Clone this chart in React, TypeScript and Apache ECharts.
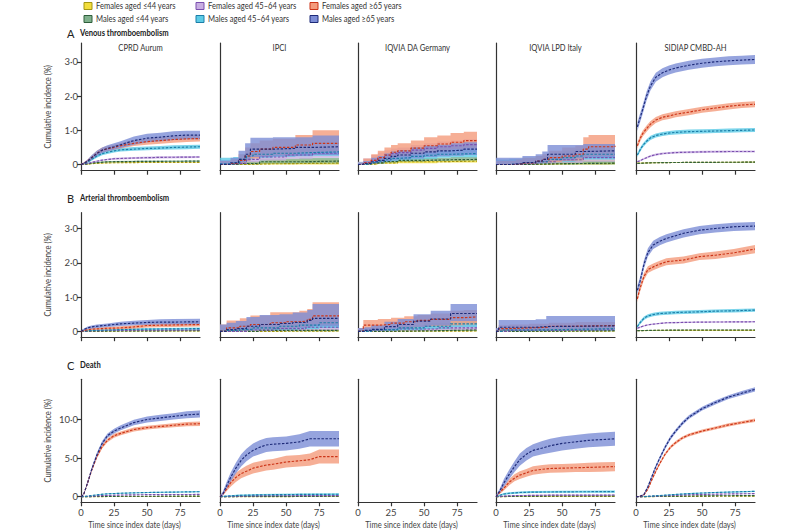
import React, { useEffect, useRef } from 'react';
import * as echarts from 'echarts';

// ---------- labels ----------
const legendRow1 = ['Females aged ≤44 years', 'Females aged 45–64 years', 'Females aged ≥65 years'];
const legendRow2 = ['Males aged ≤44 years', 'Males aged 45–64 years', 'Males aged ≥65 years'];
const columnTitles = ['CPRD Aurum', 'IPCI', 'IQVIA DA Germany', 'IQVIA LPD Italy', 'SIDIAP CMBD-AH'];
const rowLetters = ['A', 'B', 'C'];
const rowTitles = ['Venous thromboembolism', 'Arterial thromboembolism', 'Death'];
const yTitle = 'Cumulative incidence (%)';
const xTitle = 'Time since index date (days)';
const xTicks = [0, 25, 50, 75];
const yTicksAB = [0, 1, 2, 3];
const yTickLabelsAB = ['0', '1·0', '2·0', '3·0'];
const yTicksC = [0, 5, 10];
const yTickLabelsC = ['0', '5·0', '10·0'];

// ---------- data: [day, estimate, lower, upper] ----------
// A — Venous thromboembolism
const vteCprdF44 = [[0,0,0,0.01],[5,0.01,0,0.02],[10,0.03,0.02,0.04],[20,0.05,0.04,0.06],[50,0.06,0.05,0.07],[90,0.06,0.05,0.07]];
const vteCprdM44 = [[0,0,0,0.01],[5,0.02,0.01,0.04],[10,0.05,0.03,0.07],[20,0.08,0.06,0.1],[40,0.09,0.07,0.11],[90,0.1,0.08,0.12]];
const vteCprdF45 = [[0,0,0,0.01],[5,0.03,0.02,0.05],[10,0.08,0.06,0.1],[16,0.13,0.11,0.15],[25,0.17,0.14,0.2],[40,0.19,0.16,0.22],[60,0.21,0.18,0.24],[90,0.22,0.19,0.25]];
const vteCprdM45 = [[0,0,0,0.01],[2,0.02,0.01,0.04],[5,0.07,0.04,0.1],[8,0.15,0.11,0.19],[12,0.25,0.2,0.3],[16,0.32,0.27,0.37],[20,0.36,0.31,0.41],[25,0.4,0.35,0.45],[30,0.43,0.38,0.48],[40,0.45,0.4,0.51],[50,0.47,0.42,0.53],[60,0.48,0.43,0.54],[70,0.5,0.44,0.56],[80,0.51,0.45,0.57],[90,0.52,0.46,0.58]];
const vteCprdF65 = [[0,0,0,0.02],[2,0.03,0.01,0.06],[5,0.1,0.06,0.15],[8,0.2,0.15,0.26],[12,0.33,0.27,0.4],[16,0.42,0.35,0.5],[20,0.46,0.39,0.54],[25,0.5,0.43,0.58],[30,0.55,0.47,0.63],[40,0.62,0.54,0.71],[50,0.67,0.58,0.76],[60,0.7,0.61,0.79],[70,0.73,0.64,0.82],[80,0.75,0.66,0.84],[90,0.76,0.67,0.85]];
const vteCprdM65 = [[0,0,0,0.02],[2,0.03,0.01,0.06],[5,0.1,0.06,0.15],[8,0.2,0.14,0.27],[12,0.32,0.25,0.4],[16,0.42,0.34,0.5],[20,0.47,0.39,0.56],[25,0.52,0.43,0.62],[30,0.58,0.48,0.68],[40,0.7,0.58,0.82],[50,0.77,0.65,0.9],[60,0.8,0.68,0.93],[70,0.84,0.72,0.97],[80,0.86,0.74,0.99],[90,0.86,0.74,0.99]];

const vteIpciF44 = [[0,0,0,0.05],[20,0.02,0,0.08],[35,0.04,0,0.14],[90,0.05,0,0.15]];
const vteIpciM44 = [[0,0,0,0.05],[15,0.03,0,0.1],[30,0.08,0.02,0.18],[60,0.1,0.03,0.2],[90,0.12,0.04,0.22]];
const vteIpciF45 = [[0,0.02,0,0.12],[10,0.04,0.01,0.15],[20,0.15,0.07,0.28],[30,0.22,0.12,0.35],[50,0.28,0.17,0.42],[70,0.33,0.2,0.48],[90,0.35,0.22,0.5]];
const vteIpciM45 = [[0,0.02,0,0.2],[10,0.05,0.01,0.22],[15,0.15,0.07,0.3],[20,0.25,0.15,0.42],[25,0.3,0.2,0.45],[40,0.33,0.23,0.47],[57,0.35,0.24,0.5],[70,0.37,0.26,0.52],[90,0.38,0.26,0.52]];
const vteIpciF65 = [[0,0,0,0.1],[8,0.03,0,0.15],[14,0.12,0.03,0.3],[19,0.25,0.1,0.5],[23,0.38,0.18,0.62],[30,0.45,0.25,0.7],[40,0.5,0.28,0.75],[57,0.57,0.33,0.86],[70,0.62,0.37,1.0],[90,0.62,0.37,1.0]];
const vteIpciM65 = [[0,0,0,0.12],[8,0.05,0,0.2],[14,0.15,0.05,0.4],[19,0.3,0.12,0.62],[23,0.45,0.22,0.78],[40,0.47,0.24,0.8],[57,0.5,0.26,0.8],[70,0.52,0.28,0.85],[90,0.52,0.28,0.85]];

const vteDaF44 = [[0,0,0,0.03],[5,0.02,0,0.05],[15,0.05,0.02,0.09],[30,0.08,0.04,0.12],[60,0.1,0.06,0.14],[90,0.11,0.07,0.15]];
const vteDaM44 = [[0,0,0,0.04],[5,0.02,0,0.07],[10,0.05,0.02,0.1],[20,0.09,0.05,0.15],[30,0.12,0.08,0.18],[50,0.14,0.1,0.2],[70,0.15,0.11,0.22],[90,0.16,0.11,0.22]];
const vteDaF45 = [[0,0,0,0.08],[4,0.06,0.01,0.18],[10,0.12,0.04,0.28],[15,0.2,0.09,0.35],[20,0.27,0.14,0.42],[25,0.32,0.18,0.47],[30,0.35,0.21,0.5],[40,0.42,0.27,0.57],[50,0.47,0.31,0.62],[60,0.52,0.35,0.67],[70,0.55,0.38,0.7],[80,0.58,0.4,0.74],[90,0.6,0.42,0.76]];
const vteDaM45 = [[0,0,0,0.06],[5,0.02,0,0.08],[10,0.06,0.02,0.14],[15,0.1,0.04,0.2],[20,0.14,0.07,0.24],[25,0.18,0.1,0.28],[30,0.2,0.12,0.3],[40,0.24,0.15,0.35],[50,0.27,0.17,0.38],[60,0.3,0.2,0.42],[70,0.32,0.21,0.44],[90,0.34,0.22,0.46]];
const vteDaF65 = [[0,0,0,0.05],[4,0.05,0,0.18],[10,0.12,0.03,0.3],[15,0.2,0.08,0.4],[20,0.28,0.14,0.5],[25,0.36,0.2,0.57],[30,0.4,0.24,0.62],[40,0.48,0.3,0.7],[50,0.55,0.35,0.8],[60,0.6,0.4,0.85],[70,0.65,0.45,0.92],[80,0.7,0.48,0.96],[90,0.72,0.5,0.98]];
const vteDaM65 = [[0,0,0,0.05],[4,0.03,0,0.1],[10,0.08,0.02,0.2],[15,0.12,0.05,0.25],[20,0.18,0.08,0.32],[25,0.24,0.12,0.38],[30,0.28,0.15,0.42],[40,0.33,0.18,0.5],[50,0.37,0.22,0.55],[60,0.4,0.24,0.58],[70,0.42,0.26,0.62],[80,0.45,0.28,0.65],[90,0.45,0.28,0.65]];

const vteLpdF44 = [[0,0,0,0.04],[30,0.02,0,0.06],[50,0.03,0,0.15],[90,0.04,0,0.16]];
const vteLpdM44 = [[0,0,0,0.05],[20,0.02,0,0.06],[40,0.04,0,0.1],[90,0.05,0.01,0.12]];
const vteLpdF45 = [[0,0,0,0.1],[15,0.03,0,0.12],[30,0.08,0.02,0.18],[45,0.14,0.05,0.28],[66,0.2,0.08,0.35],[90,0.22,0.1,0.38]];
const vteLpdM45 = [[0,0,0,0.15],[10,0.02,0,0.17],[20,0.05,0,0.2],[30,0.08,0.02,0.25],[40,0.15,0.05,0.35],[50,0.2,0.08,0.4],[60,0.25,0.12,0.45],[66,0.3,0.15,0.5],[90,0.32,0.16,0.52]];
const vteLpdF65 = [[0,0,0,0.1],[15,0.02,0,0.15],[20,0.05,0,0.2],[30,0.1,0.02,0.25],[35,0.15,0.04,0.3],[40,0.2,0.06,0.4],[50,0.25,0.1,0.5],[60,0.3,0.12,0.55],[66,0.45,0.2,0.8],[70,0.52,0.25,0.86],[90,0.55,0.27,0.86]];
const vteLpdM65 = [[0,0,0,0.2],[10,0.02,0,0.2],[20,0.06,0,0.25],[30,0.1,0.02,0.3],[35,0.15,0.05,0.38],[39,0.3,0.12,0.57],[60,0.38,0.18,0.57],[66,0.4,0.2,0.6],[90,0.42,0.22,0.62]];

const vteSidF44 = [[1,0.04,0.03,0.05],[10,0.05,0.04,0.06],[30,0.06,0.05,0.07],[90,0.07,0.06,0.08]];
const vteSidM44 = [[1,0.03,0.02,0.04],[10,0.05,0.04,0.06],[30,0.06,0.05,0.07],[90,0.07,0.06,0.08]];
const vteSidF45 = [[1,0.08,0.06,0.1],[3,0.11,0.09,0.13],[5,0.15,0.13,0.17],[8,0.2,0.17,0.23],[11,0.25,0.22,0.28],[15,0.29,0.26,0.32],[20,0.32,0.29,0.35],[30,0.35,0.32,0.38],[50,0.37,0.34,0.4],[70,0.38,0.35,0.41],[90,0.38,0.35,0.41]];
const vteSidM45 = [[1,0.28,0.22,0.34],[3,0.42,0.36,0.48],[5,0.55,0.49,0.61],[8,0.68,0.62,0.74],[11,0.78,0.72,0.84],[15,0.85,0.79,0.91],[20,0.89,0.83,0.95],[25,0.92,0.86,0.98],[30,0.94,0.88,1.0],[40,0.96,0.9,1.02],[50,0.97,0.91,1.03],[60,0.98,0.92,1.04],[70,0.99,0.93,1.05],[80,1.0,0.94,1.06],[90,1.01,0.95,1.07]];
const vteSidF65 = [[1,0.55,0.47,0.63],[3,0.75,0.66,0.84],[5,0.9,0.81,0.99],[8,1.05,0.96,1.14],[11,1.18,1.09,1.27],[15,1.3,1.21,1.39],[20,1.38,1.29,1.47],[25,1.42,1.33,1.51],[30,1.47,1.38,1.56],[40,1.53,1.44,1.62],[50,1.6,1.51,1.69],[60,1.65,1.56,1.74],[70,1.7,1.61,1.79],[80,1.74,1.65,1.83],[90,1.76,1.67,1.85]];
const vteSidM65 = [[1,1.1,0.98,1.22],[3,1.35,1.22,1.48],[5,1.6,1.47,1.73],[8,2.0,1.87,2.13],[11,2.3,2.17,2.43],[15,2.55,2.42,2.68],[20,2.68,2.55,2.81],[25,2.76,2.63,2.89],[30,2.82,2.69,2.95],[40,2.9,2.77,3.03],[50,2.96,2.83,3.09],[60,3.0,2.87,3.13],[70,3.03,2.9,3.16],[80,3.05,2.92,3.18],[90,3.07,2.94,3.2]];

// B — Arterial thromboembolism
const ateCprdF44 = [[0,0,0,0.01],[30,0.01,0,0.02],[90,0.01,0,0.02]];
const ateCprdM44 = [[0,0,0,0.01],[20,0.01,0,0.02],[90,0.02,0.01,0.03]];
const ateCprdF45 = [[0,0,0,0.01],[10,0.02,0.01,0.03],[30,0.03,0.02,0.05],[90,0.04,0.03,0.06]];
const ateCprdM45 = [[0,0,0,0.01],[5,0.02,0,0.04],[10,0.03,0.01,0.05],[20,0.04,0.02,0.07],[40,0.06,0.04,0.09],[60,0.07,0.05,0.1],[90,0.08,0.05,0.11]];
const ateCprdF65 = [[0,0,0,0.02],[2,0.02,0,0.05],[5,0.05,0.02,0.08],[10,0.07,0.04,0.11],[20,0.09,0.05,0.13],[30,0.1,0.06,0.15],[40,0.13,0.08,0.18],[50,0.17,0.11,0.22],[60,0.18,0.12,0.24],[90,0.2,0.14,0.26]];
const ateCprdM65 = [[0,0,0,0.02],[2,0.05,0.02,0.08],[5,0.1,0.06,0.14],[8,0.13,0.08,0.17],[12,0.15,0.1,0.2],[20,0.18,0.13,0.23],[30,0.22,0.16,0.28],[40,0.24,0.18,0.31],[50,0.26,0.19,0.33],[60,0.27,0.2,0.35],[70,0.27,0.2,0.36],[90,0.28,0.21,0.37]];

const ateIpciF44 = [[0,0,0,0.03],[40,0.01,0,0.05],[90,0.02,0,0.06]];
const ateIpciM44 = [[0,0,0,0.04],[30,0.03,0,0.08],[90,0.05,0.01,0.1]];
const ateIpciF45 = [[0,0,0,0.08],[20,0.04,0,0.12],[40,0.08,0.02,0.18],[65,0.12,0.04,0.22],[90,0.13,0.05,0.24]];
const ateIpciM45 = [[0,0,0,0.12],[5,0.03,0,0.15],[15,0.06,0.01,0.2],[25,0.1,0.03,0.25],[45,0.15,0.05,0.28],[60,0.18,0.07,0.32],[75,0.25,0.1,0.36],[90,0.25,0.1,0.36]];
const ateIpciF65 = [[0,0,0,0.2],[5,0.1,0.02,0.32],[15,0.15,0.03,0.38],[23,0.2,0.06,0.46],[38,0.25,0.08,0.56],[50,0.28,0.1,0.56],[60,0.3,0.12,0.6],[66,0.35,0.15,0.65],[70,0.45,0.2,0.85],[90,0.45,0.2,0.85]];
const ateIpciM65 = [[0,0,0,0.2],[5,0.05,0,0.25],[12,0.08,0.01,0.3],[20,0.15,0.04,0.42],[30,0.2,0.06,0.48],[45,0.23,0.08,0.5],[55,0.26,0.1,0.55],[66,0.32,0.12,0.62],[70,0.38,0.15,0.8],[90,0.38,0.15,0.8]];

const ateDaF44 = [[0,0,0,0.02],[30,0.01,0,0.04],[90,0.03,0,0.06]];
const ateDaM44 = [[0,0,0,0.03],[20,0.02,0,0.06],[60,0.04,0.01,0.09],[90,0.05,0.02,0.1]];
const ateDaF45 = [[0,0,0,0.06],[10,0.04,0,0.1],[30,0.07,0.02,0.15],[60,0.1,0.04,0.2],[90,0.12,0.05,0.22]];
const ateDaM45 = [[0,0,0,0.06],[10,0.05,0.01,0.1],[30,0.1,0.04,0.18],[50,0.15,0.07,0.25],[70,0.22,0.12,0.32],[90,0.25,0.14,0.35]];
const ateDaF65 = [[0,0,0,0.1],[4,0.18,0.05,0.33],[15,0.2,0.06,0.36],[25,0.24,0.09,0.4],[35,0.28,0.11,0.44],[45,0.32,0.13,0.48],[55,0.35,0.15,0.52],[70,0.4,0.18,0.6],[80,0.42,0.2,0.62],[90,0.43,0.2,0.63]];
const ateDaM65 = [[0,0,0,0.1],[5,0.03,0,0.12],[10,0.06,0.01,0.18],[20,0.14,0.05,0.28],[30,0.2,0.08,0.36],[42,0.3,0.13,0.5],[55,0.36,0.17,0.6],[70,0.52,0.3,0.8],[90,0.52,0.3,0.8]];

const ateLpdF44 = [[0,0,0,0.02],[30,0.01,0,0.04],[90,0.02,0,0.05]];
const ateLpdM44 = [[0,0,0,0.03],[20,0.02,0,0.05],[90,0.03,0,0.06]];
const ateLpdF45 = [[0,0,0,0.04],[10,0.03,0,0.08],[50,0.05,0.01,0.1],[90,0.05,0.01,0.1]];
const ateLpdM45 = [[0,0,0,0.05],[5,0.04,0,0.1],[30,0.06,0.01,0.12],[60,0.08,0.02,0.15],[90,0.08,0.02,0.15]];
const ateLpdF65 = [[0,0,0,0.08],[2,0.08,0.02,0.18],[10,0.1,0.03,0.2],[25,0.12,0.04,0.22],[40,0.15,0.05,0.25],[60,0.17,0.06,0.27],[90,0.18,0.06,0.28]];
const ateLpdM65 = [[0,0,0,0.1],[2,0.12,0.02,0.33],[30,0.14,0.04,0.35],[38,0.16,0.05,0.45],[90,0.18,0.06,0.45]];

const ateSidF44 = [[1,0.02,0.01,0.03],[20,0.03,0.02,0.04],[90,0.03,0.02,0.04]];
const ateSidM44 = [[1,0.02,0.01,0.03],[10,0.03,0.02,0.04],[40,0.04,0.03,0.05],[90,0.04,0.03,0.05]];
const ateSidF45 = [[1,0.09,0.07,0.11],[3,0.12,0.1,0.14],[6,0.16,0.14,0.18],[9,0.19,0.17,0.21],[13,0.21,0.19,0.23],[23,0.25,0.23,0.27],[48,0.27,0.25,0.29],[90,0.28,0.26,0.3]];
const ateSidM45 = [[1,0.14,0.1,0.18],[3,0.25,0.2,0.3],[6,0.38,0.33,0.43],[9,0.45,0.4,0.5],[13,0.49,0.44,0.54],[18,0.52,0.47,0.57],[30,0.55,0.5,0.6],[48,0.57,0.52,0.62],[60,0.59,0.54,0.64],[74,0.6,0.55,0.65],[90,0.62,0.57,0.67]];
const ateSidF65 = [[1,0.95,0.85,1.05],[3,1.25,1.15,1.35],[6,1.6,1.5,1.7],[9,1.8,1.7,1.9],[13,1.88,1.78,1.98],[18,1.96,1.86,2.06],[23,2.03,1.93,2.13],[30,2.06,1.96,2.16],[36,2.08,1.98,2.18],[48,2.18,2.08,2.28],[60,2.22,2.11,2.33],[74,2.29,2.18,2.4],[90,2.4,2.28,2.52]];
const ateSidM65 = [[1,1.2,1.08,1.32],[3,1.45,1.33,1.57],[6,1.95,1.83,2.07],[9,2.3,2.18,2.42],[13,2.52,2.4,2.64],[18,2.63,2.51,2.75],[23,2.71,2.59,2.83],[30,2.79,2.67,2.91],[36,2.86,2.74,2.98],[48,2.95,2.83,3.07],[60,3.0,2.88,3.12],[74,3.05,2.93,3.17],[90,3.07,2.95,3.19]];

// C — Death
const dthCprdF44 = [[0,0,0,0.01],[10,0.02,0.01,0.03],[30,0.03,0.02,0.04],[90,0.04,0.03,0.05]];
const dthCprdM44 = [[0,0,0,0.01],[10,0.03,0.02,0.04],[30,0.06,0.04,0.08],[90,0.08,0.06,0.1]];
const dthCprdF45 = [[0,0,0,0.01],[5,0.04,0.02,0.06],[12,0.12,0.09,0.15],[20,0.18,0.14,0.22],[30,0.22,0.18,0.26],[50,0.27,0.22,0.32],[90,0.3,0.25,0.35]];
const dthCprdM45 = [[0,0,0,0.02],[5,0.08,0.05,0.11],[12,0.25,0.2,0.3],[20,0.38,0.32,0.44],[30,0.45,0.39,0.51],[50,0.55,0.48,0.62],[70,0.6,0.53,0.67],[90,0.65,0.57,0.73]];
const dthCprdF65 = [[0,0,0,0.1],[2,0.3,0.2,0.4],[5,1.8,1.6,2.0],[8,3.4,3.2,3.6],[12,5.2,4.95,5.45],[16,6.5,6.25,6.75],[20,7.3,7.05,7.55],[25,7.9,7.65,8.15],[30,8.2,7.95,8.45],[40,8.7,8.45,8.95],[50,8.95,8.7,9.2],[60,9.1,8.85,9.35],[70,9.25,9.0,9.5],[80,9.4,9.12,9.68],[90,9.45,9.17,9.73]];
const dthCprdM65 = [[0,0,0,0.1],[2,0.3,0.2,0.4],[5,1.8,1.6,2.0],[8,3.5,3.25,3.75],[12,5.4,5.1,5.7],[16,6.9,6.6,7.2],[20,7.9,7.6,8.2],[25,8.5,8.2,8.8],[30,8.9,8.6,9.25],[40,9.6,9.25,9.95],[50,10.0,9.6,10.4],[60,10.2,9.8,10.6],[70,10.4,10.0,10.8],[80,10.6,10.15,11.05],[90,10.7,10.25,11.15]];

const dthIpciF44 = [[0,0,0,0.02],[30,0.02,0,0.05],[90,0.03,0.01,0.07]];
const dthIpciM44 = [[0,0,0,0.03],[20,0.04,0.01,0.08],[90,0.06,0.02,0.12]];
const dthIpciF45 = [[0,0,0,0.04],[10,0.06,0.02,0.12],[30,0.12,0.06,0.2],[90,0.15,0.08,0.24]];
const dthIpciM45 = [[0,0,0,0.05],[5,0.08,0.02,0.15],[15,0.18,0.1,0.28],[30,0.25,0.15,0.35],[60,0.3,0.18,0.42],[90,0.32,0.2,0.45]];
const dthIpciF65 = [[0,0,0,0.2],[2,0.3,0.1,0.5],[5,1.0,0.7,1.4],[8,1.8,1.3,2.3],[12,2.5,1.9,3.1],[16,3.0,2.4,3.6],[20,3.3,2.7,4.0],[25,3.7,3.0,4.4],[30,3.9,3.2,4.6],[35,4.1,3.4,4.8],[40,4.2,3.5,4.9],[50,4.5,3.8,5.3],[60,4.65,3.9,5.4],[68,4.8,4.0,5.6],[75,5.2,4.3,6.1],[90,5.2,4.3,6.1]];
const dthIpciM65 = [[0,0,0,0.2],[2,0.3,0.1,0.6],[5,1.4,1.0,1.9],[8,2.5,1.9,3.1],[12,3.7,3.0,4.4],[16,4.7,3.9,5.5],[20,5.4,4.6,6.2],[25,6.0,5.2,6.9],[30,6.4,5.5,7.3],[35,6.7,5.8,7.6],[40,6.8,5.9,7.7],[50,6.9,6.0,7.8],[60,7.1,6.2,8.1],[68,7.5,6.5,8.5],[90,7.5,6.5,8.5]];

const dthLpdF44 = [[0,0,0,0.03],[10,0.03,0.01,0.05],[40,0.05,0.02,0.08],[90,0.05,0.03,0.08]];
const dthLpdM44 = [[0,0,0,0.04],[10,0.05,0.02,0.09],[40,0.09,0.05,0.14],[90,0.1,0.06,0.15]];
const dthLpdF45 = [[0,0,0,0.05],[5,0.08,0.03,0.14],[15,0.15,0.08,0.22],[40,0.2,0.12,0.28],[90,0.22,0.14,0.3]];
const dthLpdM45 = [[0,0,0,0.1],[3,0.2,0.1,0.3],[6,0.35,0.22,0.48],[10,0.45,0.32,0.58],[18,0.55,0.42,0.68],[28,0.6,0.47,0.73],[50,0.63,0.5,0.76],[90,0.67,0.53,0.8]];
const dthLpdF65 = [[0,0,0,0.15],[3,0.6,0.4,0.8],[6,1.1,0.8,1.4],[10,1.9,1.5,2.3],[14,2.4,2.0,2.9],[18,2.8,2.3,3.3],[23,3.1,2.6,3.6],[28,3.4,2.85,3.95],[35,3.55,3.0,4.1],[41,3.65,3.1,4.2],[50,3.7,3.15,4.25],[60,3.75,3.2,4.3],[70,3.8,3.2,4.4],[80,3.85,3.25,4.45],[90,3.9,3.3,4.5]];
const dthLpdM65 = [[0,0,0,0.2],[3,0.8,0.5,1.1],[6,1.8,1.3,2.3],[10,2.9,2.3,3.5],[14,3.9,3.2,4.6],[18,4.8,4.0,5.6],[23,5.5,4.7,6.3],[28,6.0,5.2,6.8],[35,6.3,5.5,7.2],[41,6.6,5.7,7.5],[50,6.9,6.0,7.8],[60,7.1,6.2,8.0],[70,7.3,6.4,8.2],[80,7.4,6.5,8.3],[90,7.5,6.6,8.4]];

const dthSidF44 = [[0,0,0,0.01],[10,0.02,0.01,0.03],[30,0.04,0.03,0.05],[60,0.06,0.05,0.07],[90,0.08,0.07,0.09]];
const dthSidM44 = [[0,0,0,0.02],[10,0.03,0.01,0.05],[30,0.08,0.05,0.11],[60,0.12,0.09,0.15],[90,0.15,0.12,0.18]];
const dthSidF45 = [[0,0,0,0.02],[9,0.04,0.02,0.06],[20,0.12,0.09,0.15],[30,0.2,0.16,0.24],[50,0.3,0.25,0.35],[70,0.36,0.31,0.41],[90,0.4,0.35,0.45]];
const dthSidM45 = [[0,0,0,0.02],[9,0.05,0.02,0.08],[15,0.12,0.08,0.16],[22,0.2,0.15,0.25],[30,0.3,0.24,0.36],[40,0.4,0.33,0.47],[50,0.48,0.41,0.55],[60,0.55,0.48,0.62],[70,0.6,0.53,0.67],[90,0.7,0.62,0.78]];
const dthSidF65 = [[0,0,0,0.05],[3,0.05,0,0.1],[6,0.25,0.15,0.35],[9,1.0,0.85,1.15],[12,2.2,2.0,2.4],[15,3.3,3.1,3.5],[18,4.3,4.1,4.5],[22,5.5,5.3,5.7],[26,6.4,6.2,6.6],[30,7.0,6.8,7.2],[35,7.6,7.4,7.8],[40,8.0,7.8,8.2],[50,8.5,8.3,8.7],[60,8.9,8.7,9.1],[70,9.3,9.1,9.5],[80,9.6,9.4,9.8],[90,9.9,9.68,10.12]];
const dthSidM65 = [[0,0,0,0.05],[3,0.05,0,0.1],[6,0.3,0.2,0.4],[9,1.3,1.1,1.5],[12,2.6,2.35,2.85],[15,3.9,3.65,4.15],[18,5.0,4.75,5.25],[22,6.4,6.15,6.65],[26,7.6,7.35,7.85],[30,8.5,8.25,8.75],[35,9.5,9.25,9.75],[40,10.3,10.05,10.55],[50,11.4,11.15,11.65],[60,12.2,11.95,12.45],[70,12.9,12.65,13.15],[80,13.4,13.13,13.67],[90,13.9,13.62,14.18]];

// ---------- styling ----------
const FONT = "Lato, 'Open Sans', sans-serif";
// order of groups: F≤44, M≤44, F45–64, M45–64, F≥65, M≥65
const fillColors = ['#F2DD3C', '#7FB08C', '#C8AEE2', '#5CCBE6', '#F49B7C', '#7C8DD6'];
const lineColors = ['#A39612', '#2E5E3B', '#7A4FAE', '#1B7EA8', '#CC3518', '#1D2A78'];
const legendRow1Idx = [0, 2, 4];
const legendRow2Idx = [1, 3, 5];

const colLeft = [81, 220, 358, 496, 636];
const plotW = 119;
const rowTop = [43, 212.7, 379.3];
const rowH = [127.7, 124.5, 123];
const rowMin = [-0.18, -0.17, -0.72];
const rowMax = [3.55, 3.46, 15.2];

const panels = [
  { row: 0, col: 0, step: false, s: [vteCprdF44, vteCprdM44, vteCprdF45, vteCprdM45, vteCprdF65, vteCprdM65] },
  { row: 0, col: 1, step: true, s: [vteIpciF44, vteIpciM44, vteIpciF45, vteIpciM45, vteIpciF65, vteIpciM65] },
  { row: 0, col: 2, step: true, s: [vteDaF44, vteDaM44, vteDaF45, vteDaM45, vteDaF65, vteDaM65] },
  { row: 0, col: 3, step: true, s: [vteLpdF44, vteLpdM44, vteLpdF45, vteLpdM45, vteLpdF65, vteLpdM65] },
  { row: 0, col: 4, step: false, s: [vteSidF44, vteSidM44, vteSidF45, vteSidM45, vteSidF65, vteSidM65] },
  { row: 1, col: 0, step: false, s: [ateCprdF44, ateCprdM44, ateCprdF45, ateCprdM45, ateCprdF65, ateCprdM65] },
  { row: 1, col: 1, step: true, s: [ateIpciF44, ateIpciM44, ateIpciF45, ateIpciM45, ateIpciF65, ateIpciM65] },
  { row: 1, col: 2, step: true, s: [ateDaF44, ateDaM44, ateDaF45, ateDaM45, ateDaF65, ateDaM65] },
  { row: 1, col: 3, step: true, s: [ateLpdF44, ateLpdM44, ateLpdF45, ateLpdM45, ateLpdF65, ateLpdM65] },
  { row: 1, col: 4, step: false, s: [ateSidF44, ateSidM44, ateSidF45, ateSidM45, ateSidF65, ateSidM65] },
  { row: 2, col: 0, step: false, s: [dthCprdF44, dthCprdM44, dthCprdF45, dthCprdM45, dthCprdF65, dthCprdM65] },
  { row: 2, col: 1, step: false, s: [dthIpciF44, dthIpciM44, dthIpciF45, dthIpciM45, dthIpciF65, dthIpciM65] },
  { row: 2, col: 2, step: false, s: [] as number[][][] },
  { row: 2, col: 3, step: false, s: [dthLpdF44, dthLpdM44, dthLpdF45, dthLpdM45, dthLpdF65, dthLpdM65] },
  { row: 2, col: 4, step: false, s: [dthSidF44, dthSidM44, dthSidF45, dthSidM45, dthSidF65, dthSidM65] },
];

function bandRenderer(step: boolean, fill: string) {
  return (params: any, api: any) => {
    if (params.dataIndexInside !== 0) return null;
    const n = params.dataInsideLength;
    const upper: number[][] = [];
    const lower: number[][] = [];
    for (let i = 0; i < n; i++) {
      const d = api.value(0, i);
      const lo = api.value(1, i);
      const hi = api.value(2, i);
      if (step && i > 0) {
        upper.push(api.coord([d, api.value(2, i - 1)]));
        lower.push(api.coord([d, api.value(1, i - 1)]));
      }
      upper.push(api.coord([d, hi]));
      lower.push(api.coord([d, lo]));
    }
    return {
      type: 'polygon',
      shape: { points: upper.concat(lower.reverse()) },
      style: { fill, opacity: 0.8 },
    };
  };
}

function buildOption() {
  const grid: any[] = [];
  const xAxis: any[] = [];
  const yAxis: any[] = [];
  const series: any[] = [];
  const axisColor = '#333';
  const labelColor = '#444';

  panels.forEach((p, g) => {
    grid.push({ left: colLeft[p.col], width: plotW, top: rowTop[p.row], height: rowH[p.row] });
    const isC = p.row === 2;
    xAxis.push({
      gridIndex: g, type: 'value', min: 0, max: 90,
      axisLine: { show: true, onZero: false, lineStyle: { color: axisColor, width: 1.2 } },
      axisTick: { show: true, length: 4, customValues: xTicks, lineStyle: { color: axisColor, width: 1.2 } },
      axisLabel: { show: isC, customValues: xTicks, fontSize: 9.5, color: labelColor, margin: 5, fontFamily: FONT },
      splitLine: { show: false },
    });
    const first = p.col === 0;
    const ticks = isC ? yTicksC : yTicksAB;
    const tickLabels = isC ? yTickLabelsC : yTickLabelsAB;
    yAxis.push({
      gridIndex: g, type: 'value', min: rowMin[p.row], max: rowMax[p.row],
      axisLine: { show: true, onZero: false, lineStyle: { color: axisColor, width: 1.2 } },
      axisTick: { show: first, length: 4, customValues: ticks, lineStyle: { color: axisColor, width: 1.2 } },
      axisLabel: {
        show: first, customValues: ticks, fontSize: 9.5, color: labelColor, margin: 3, fontFamily: FONT,
        formatter: (v: number) => { const i = ticks.indexOf(Math.round(v * 100) / 100); return i >= 0 ? tickLabels[i] : ''; },
      },
      splitLine: { show: false },
    });

    p.s.forEach((arr, k) => {
      series.push({
        type: 'custom', xAxisIndex: g, yAxisIndex: g, silent: true, z: 2,
        data: arr.map((q) => [q[0], q[2], q[3]]),
        encode: { x: 0, y: [1, 2] },
        renderItem: bandRenderer(p.step, fillColors[k]),
      });
    });
    p.s.forEach((arr, k) => {
      series.push({
        type: 'line', xAxisIndex: g, yAxisIndex: g, symbol: 'none', silent: true,
        step: p.step ? 'end' : false,
        data: arr.map((q) => [q[0], q[1]]),
        lineStyle: { color: lineColors[k], width: 1.15, type: [2.5, 1.5] }, z: 4,
      });
    });
  });

  const graphic: any[] = [];
  const SX = 0.8;
  const legendX = [84, 196, 310];
  const legendY = [6, 19];
  [legendRow1, legendRow2].forEach((names, r) => {
    const idxs = r === 0 ? legendRow1Idx : legendRow2Idx;
    names.forEach((n, i) => {
      const k = idxs[i];
      graphic.push({ type: 'rect', z: 100, shape: { x: legendX[i], y: legendY[r] - 3.5, width: 8, height: 7 }, style: { fill: fillColors[k], stroke: lineColors[k], lineWidth: 1 } });
      graphic.push({ type: 'text', z: 100, x: legendX[i] + 12, y: legendY[r], scaleX: SX, style: { text: n, font: `9.5px ${FONT}`, fill: '#333', verticalAlign: 'middle', textAlign: 'left' } });
    });
  });
  const headY = [33, 198, 365];
  rowLetters.forEach((L, r) => {
    graphic.push({ type: 'text', z: 100, x: 67, y: headY[r], style: { text: L, font: `11px ${FONT}`, fill: '#222', verticalAlign: 'middle' } });
    graphic.push({ type: 'text', z: 100, x: 80, y: headY[r], scaleX: SX, style: { text: rowTitles[r], font: `bold 9.5px ${FONT}`, fill: '#222', verticalAlign: 'middle' } });
    const cy = rowTop[r] + rowH[r] / 2;
    graphic.push({ type: 'text', z: 100, x: 48, y: cy, rotation: Math.PI / 2, scaleX: SX, style: { text: yTitle, font: `9.5px ${FONT}`, fill: '#444', textAlign: 'center', verticalAlign: 'middle' } });
  });
  columnTitles.forEach((t, c) => {
    graphic.push({ type: 'text', z: 100, x: colLeft[c] + plotW / 2, y: 48, scaleX: SX, style: { text: t, font: `9.5px ${FONT}`, fill: '#333', textAlign: 'center', verticalAlign: 'middle' } });
    graphic.push({ type: 'text', z: 100, x: colLeft[c] + plotW / 2 - 6, y: 525, scaleX: SX, style: { text: xTitle, font: `9.5px ${FONT}`, fill: '#444', textAlign: 'center', verticalAlign: 'middle' } });
  });

  return { animation: false, backgroundColor: '#fff', grid, xAxis, yAxis, series, graphic };
}

export default function App() {
  const ref = useRef<HTMLDivElement>(null);
  useEffect(() => {
    if (!ref.current) return;
    const chart = echarts.init(ref.current, undefined, { renderer: 'svg' });
    chart.setOption(buildOption() as any);
    return () => chart.dispose();
  }, []);
  return <div ref={ref} style={{ position: 'absolute', left: 0, top: 0, width: 800, height: 530 }} />;
}
